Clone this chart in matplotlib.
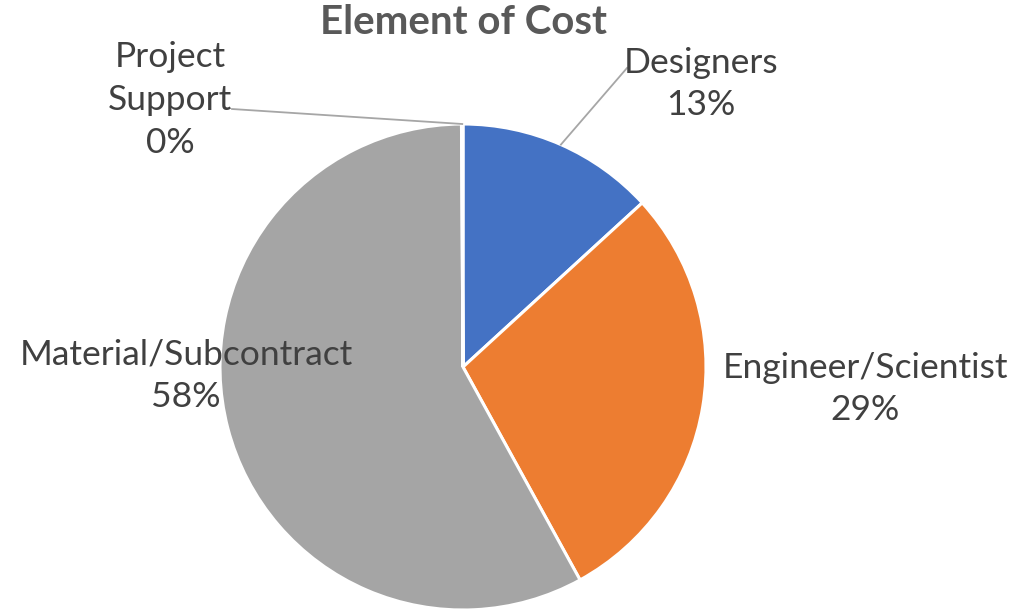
import numpy as np
import matplotlib.pyplot as plt

categories = ["Designers", "Engineer/Scientist", "Material/Subcontract", "Project\nSupport"]
values = [13.2, 28.8, 57.9, 0.1]
pct_labels = ["13%", "29%", "58%", "0%"]
colors = ["#4472C4", "#ED7D31", "#A5A5A5", "#FFC000"]

plt.rcParams["font.family"] = ["Lato", "DejaVu Sans"]

W, H = 1033, 612
cx, cy, R = 463, H - 367, 243

fig = plt.figure(figsize=(10.33, 6.12), dpi=100)
ax = fig.add_axes([0, 0, 1, 1])

wedges, _ = ax.pie(values, colors=colors, startangle=90, counterclock=False,
                   center=(cx, cy), radius=R,
                   wedgeprops=dict(edgecolor="white", linewidth=2.2))
ax.set_xlim(0, W)
ax.set_ylim(0, H)
ax.set_aspect("equal")
ax.axis("off")

ax.text(463, H - 23, "Element of Cost", ha="center", va="center",
        fontsize=29, fontweight="bold", color="#595959")

# label block centres (x, y from top)
label_pos = [(701, 84), (865, 389), (186, 376), (170, 100)]
for cat, pct, (lx, ly) in zip(categories, pct_labels, label_pos):
    ax.text(lx, H - ly, cat + "\n" + pct, ha="center", va="center",
            fontsize=25.5, color="#404040", linespacing=1.42)

# leader lines
def edge_point(w, r=R):
    a = np.deg2rad((w.theta1 + w.theta2) / 2)
    return cx + r * np.cos(a), cy + r * np.sin(a)

x0, y0 = edge_point(wedges[0])
ax.plot([627, x0], [H - 68, y0], color="#A6A6A6", lw=1.3)
x3, y3 = edge_point(wedges[3])
ax.plot([232, x3], [H - 109, y3], color="#A6A6A6", lw=1.3)

fig.savefig("out.png", dpi=100)
